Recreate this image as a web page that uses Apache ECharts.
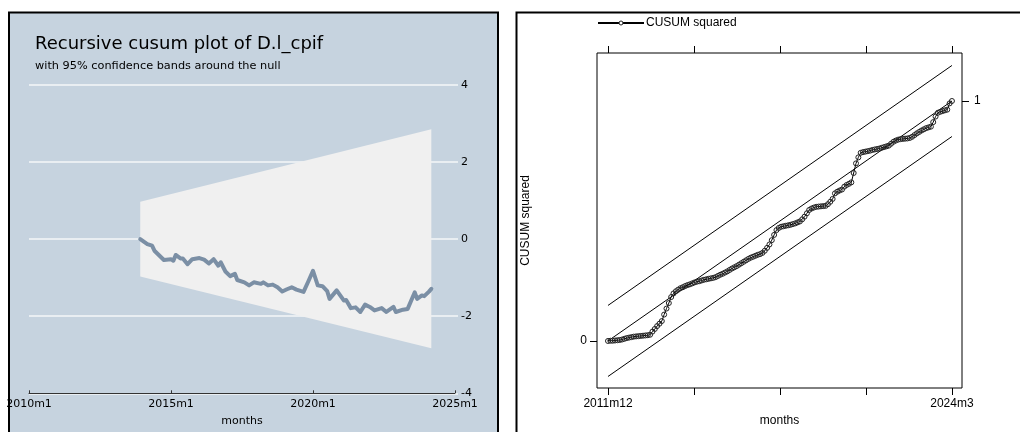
<!DOCTYPE html>
<html>
<head>
<meta charset="utf-8">
<script src="https://cdn.jsdelivr.net/npm/echarts@6/dist/echarts.min.js"></script>
<style>html,body{margin:0;padding:0;background:#fff}#c{width:1020px;height:432px}</style>
</head>
<body>
<div id="c"></div>
<script>
// ---------- data: recursive cusum (left) ----------
const cusumMonths = ["2013m12","2014m3","2014m5","2014m6","2014m10","2015m1","2015m2","2015m3","2015m5","2015m6","2015m8","2015m10","2016m1","2016m3","2016m5","2016m7","2016m9","2016m10","2016m12","2017m2","2017m4","2017m5","2017m8","2017m10","2017m12","2018m3","2018m4","2018m6","2018m8","2018m10","2018m12","2019m2","2019m4","2019m6","2019m9","2019m11","2020m1","2020m3","2020m5","2020m7","2020m8","2020m11","2021m2","2021m3","2021m5","2021m7","2021m9","2021m11","2022m1","2022m3","2022m6","2022m8","2022m11","2022m12","2023m3","2023m5","2023m8","2023m9","2023m11","2023m12","2024m2","2024m3"];
const cusumValues = [0,-0.13,-0.17,-0.30,-0.54,-0.52,-0.56,-0.41,-0.50,-0.50,-0.65,-0.52,-0.49,-0.53,-0.63,-0.52,-0.69,-0.60,-0.84,-0.96,-0.90,-1.06,-1.12,-1.20,-1.12,-1.16,-1.12,-1.20,-1.18,-1.25,-1.36,-1.30,-1.25,-1.31,-1.37,-1.10,-0.82,-1.20,-1.22,-1.35,-1.55,-1.33,-1.59,-1.58,-1.79,-1.77,-1.89,-1.70,-1.76,-1.85,-1.79,-1.89,-1.76,-1.89,-1.83,-1.81,-1.38,-1.55,-1.46,-1.48,-1.36,-1.29];
const bandMonths = ["2013m12","2024m3"];
const bandUpper = [0.97, 2.85];
const bandLower = [-0.97, -2.83];
const leftXTicks = ["2010m1","2015m1","2020m1","2025m1"];
const leftYTicks = [-4,-2,0,2,4];

// ---------- data: CUSUM squared (right), monthly from 2011m12 ----------
const sqStart = "2011m12";
const sqValues = [0.000,0.001,0.001,0.002,0.003,0.004,0.006,0.009,0.012,0.014,0.016,0.018,0.019,0.020,0.021,0.022,0.023,0.024,0.026,0.039,
0.050,0.062,0.072,0.083,0.110,0.135,0.158,0.183,0.198,0.207,0.214,0.220,0.224,0.229,0.233,0.236,0.240,0.244,0.247,0.249,
0.252,0.255,0.257,0.259,0.261,0.263,0.266,0.271,0.276,0.280,0.285,0.290,0.296,0.302,0.307,0.312,0.318,0.324,0.330,0.336,
0.342,0.347,0.351,0.355,0.359,0.362,0.367,0.376,0.388,0.402,0.420,0.442,0.462,0.471,0.476,0.478,0.480,0.482,0.484,0.487,
0.490,0.494,0.498,0.507,0.518,0.532,0.546,0.552,0.556,0.559,0.560,0.561,0.562,0.563,0.570,0.580,0.592,0.615,0.622,0.627,
0.631,0.643,0.650,0.655,0.661,0.700,0.740,0.765,0.784,0.787,0.789,0.791,0.793,0.796,0.798,0.800,0.802,0.805,0.808,0.811,
0.814,0.822,0.830,0.835,0.839,0.841,0.842,0.843,0.844,0.846,0.851,0.858,0.865,0.871,0.877,0.882,0.887,0.890,0.893,0.912,
0.935,0.951,0.955,0.958,0.961,0.964,0.990,1.000];
const sqBoundMonths = ["2011m12","2024m3"];
const sqExpected = [0, 1];
const sqUpper = [0.148, 1.148];
const sqLower = [-0.148, 0.852];
const rightXLabels = ["2011m12","2024m3"];

// ---------- helpers ----------
function mIdx(s){ const p = s.split('m'); return (+p[0]-2010)*12 + (+p[1]-1); }
function mLab(v){ v = Math.round(v); return (2010+Math.floor(v/12)) + 'm' + (((v%12)+12)%12+1); }

const sq0 = mIdx(sqStart);
const sqData = sqValues.map((v,i)=>[sq0+i, v]);
const rStart = mIdx(rightXLabels[0]), rEnd = mIdx(rightXLabels[1]);
const rTickVals = [0,1,2,3,4].map(k => rStart + k*(rEnd-rStart)/4);

const LF = "'DejaVu Sans', sans-serif";
const RF = "'Liberation Sans', Arial, sans-serif";
const RS = 12;

const chart = echarts.init(document.getElementById('c'), null, {renderer:'canvas'});
const option = {
  backgroundColor: '#ffffff',
  animation: false,
  grid: [
    {left: 29, width: 426, top: 85, height: 308.3, containLabel: false},
    {left: 597, width: 365, top: 53, height: 335, show: true, borderColor: '#000', borderWidth: 1, backgroundColor: '#fff'}
  ],
  legend: {
    data: ['CUSUM squared'], left: 597, top: 17, padding: 0, itemWidth: 46, itemHeight: 5, itemGap: 4,
    itemStyle: {color:'#fff', borderColor:'#222', borderWidth:1},
    textStyle: {fontFamily: RF, fontSize: RS, color: '#000', padding: [0,0,0,-3]}
  },
  xAxis: [
    {type:'value', gridIndex:0, min: mIdx(leftXTicks[0]), max: mIdx(leftXTicks[leftXTicks.length-1]), interval: 60,
     axisLine:{show:true, onZero:false, lineStyle:{color:'#333', width:1}},
     axisTick:{show:true, inside:true, length:3, lineStyle:{color:'#333'}},
     axisLabel:{formatter: v => mLab(v), fontFamily: LF, fontSize: 11, color:'#000', margin: 5},
     splitLine:{show:false},
     name:'months', nameLocation:'middle', nameGap: 22, nameTextStyle:{fontFamily: LF, fontSize: 11, color:'#000'}},
    {type:'value', gridIndex:1, position:'bottom', min: rStart - 4.7, max: rEnd + 4.3,
     axisLine:{show:false, onZero:false},
     axisTick:{show:true, length:7, customValues: rTickVals, lineStyle:{color:'#000'}},
     axisLabel:{customValues: [rStart, rEnd], formatter: v => mLab(v), fontFamily: RF, fontSize: RS, color:'#000', margin: 10},
     splitLine:{show:false},
     name:'months', nameLocation:'middle', nameGap: 27, nameTextStyle:{fontFamily: RF, fontSize: RS, color:'#000'}},
    {type:'value', gridIndex:1, position:'top', min: rStart - 4.7, max: rEnd + 4.3,
     axisLine:{show:false, onZero:false},
     axisTick:{show:true, length:7, customValues: rTickVals, lineStyle:{color:'#000'}},
     axisLabel:{show:false}, splitLine:{show:false}}
  ],
  yAxis: [
    {type:'value', gridIndex:0, position:'right', min: leftYTicks[0], max: leftYTicks[leftYTicks.length-1], interval: 2,
     axisLine:{show:false, onZero:false},
     axisTick:{show:true, length:3, lineStyle:{color:'#f4f7f9', width:1.5}},
     axisLabel:{fontFamily: LF, fontSize: 11, color:'#000', margin: 6},
     splitLine:{show:true, lineStyle:{color:'#f4f7f9', width:1.5}}},
    {type:'value', gridIndex:1, position:'left', min: -0.196, max: 1.2,
     axisLine:{show:false, onZero:false},
     axisTick:{show:true, length:7, customValues:[0], lineStyle:{color:'#000'}},
     axisLabel:{customValues:[0], fontFamily: RF, fontSize: RS, color:'#000', margin: 10},
     splitLine:{show:false},
     name:'CUSUM squared', nameLocation:'middle', nameRotate: 90, nameGap: 65,
     nameTextStyle:{fontFamily: RF, fontSize: RS, color:'#000'}},
    {type:'value', gridIndex:1, position:'right', min: -0.196, max: 1.2,
     axisLine:{show:false, onZero:false},
     axisTick:{show:true, length:7, customValues:[1], lineStyle:{color:'#000'}},
     axisLabel:{customValues:[1], fontFamily: RF, fontSize: RS, color:'#000', margin: 12},
     splitLine:{show:false}}
  ],
  series: [
    {type:'custom', name:'band', xAxisIndex:0, yAxisIndex:0, z: 1, silent: true,
     data: [[mIdx(bandMonths[0]), 0]],
     encode: {x:0, y:1},
     renderItem: function(params, api){
       const pts = [];
       for (let i=0;i<bandMonths.length;i++) pts.push(api.coord([mIdx(bandMonths[i]), bandUpper[i]]));
       for (let i=bandMonths.length-1;i>=0;i--) pts.push(api.coord([mIdx(bandMonths[i]), bandLower[i]]));
       return {type:'polygon', shape:{points: pts}, style:{fill:'#f0f0f0'}};
     }},
    {type:'line', name:'cusum', xAxisIndex:0, yAxisIndex:0, z: 3, symbol:'none',
     data: cusumMonths.map((m,i)=>[mIdx(m), cusumValues[i]]),
     lineStyle:{color:'#7b8fa5', width:4, join:'round', cap:'round'}},
    {type:'line', name:'upper', xAxisIndex:1, yAxisIndex:1, symbol:'none', silent:true,
     data: sqBoundMonths.map((m,i)=>[mIdx(m), sqUpper[i]]), lineStyle:{color:'#000', width:1}},
    {type:'line', name:'expected', xAxisIndex:1, yAxisIndex:1, symbol:'none', silent:true,
     data: sqBoundMonths.map((m,i)=>[mIdx(m), sqExpected[i]]), lineStyle:{color:'#000', width:1}},
    {type:'line', name:'lower', xAxisIndex:1, yAxisIndex:1, symbol:'none', silent:true,
     data: sqBoundMonths.map((m,i)=>[mIdx(m), sqLower[i]]), lineStyle:{color:'#000', width:1}},
    {type:'line', name:'CUSUM squared', xAxisIndex:1, yAxisIndex:1, z: 4,
     symbol:'circle', symbolSize: 5, showAllSymbol: true,
     data: sqData,
     lineStyle:{color:'#000', width:1},
     itemStyle:{color:'rgba(0,0,0,0)', borderColor:'#222', borderWidth:1}}
  ],
  graphic: [
    {type:'rect', z:-100, silent:true, shape:{x:9, y:12.5, width:489, height:440}, style:{fill:'#c6d3df'}},
    {type:'rect', z:100, silent:true, shape:{x:9, y:12.5, width:489, height:440}, style:{fill:'none', stroke:'#000', lineWidth:2}},
    {type:'rect', z:100, silent:true, shape:{x:516.5, y:12.5, width:520, height:440}, style:{fill:'none', stroke:'#000', lineWidth:2}},
    {type:'text', z:100, left:35, top:35, style:{text:'Recursive cusum plot of D.l_cpif', fontFamily: LF, fontSize:18, fill:'#000'}},
    {type:'text', z:100, left:35, top:61, style:{text:'with 95% confidence bands around the null', fontFamily: LF, fontSize:11.3, fill:'#000'}}
  ]
};
chart.setOption(option);
</script>
</body>
</html>
